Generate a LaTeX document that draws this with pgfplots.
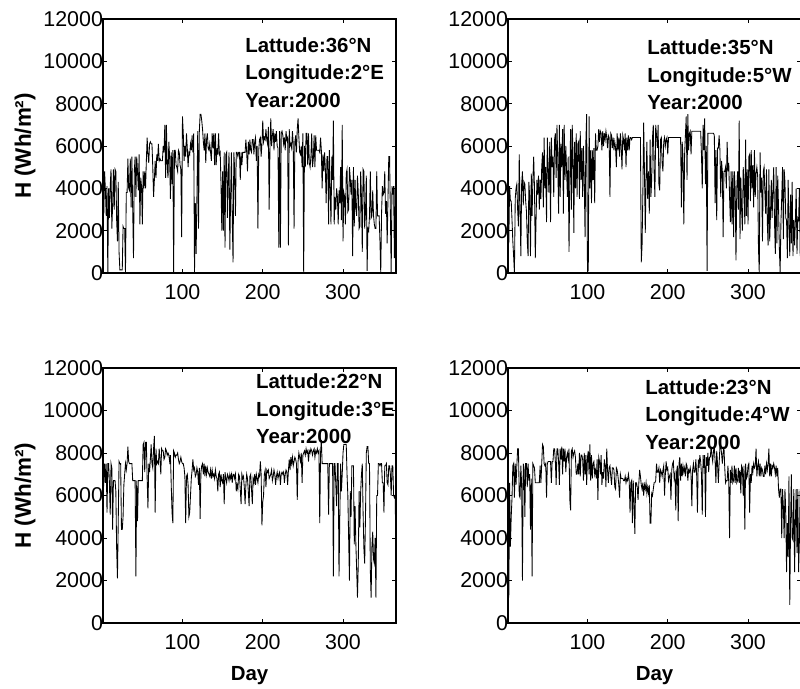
\documentclass[border=0pt]{standalone}
\usepackage{fontspec}
\setmainfont{Liberation Sans}
\usepackage{pgfplots}
\usepackage{pgfplotstable}
\pgfplotsset{compat=1.18}

% daily global irradiation H (Wh/m2), year 2000, one table per site
\pgfplotstableread[row sep=\\]{h\\
3500\\2800\\4800\\3900\\2700\\4100\\0\\4000\\2600\\4100\\
4900\\2100\\3200\\4900\\3000\\4900\\4800\\2500\\1500\\4300\\
1000\\150\\150\\150\\150\\2200\\2100\\2100\\0\\3800\\
3800\\5400\\4000\\3900\\5400\\3100\\5500\\3000\\700\\4800\\
5500\\3600\\5500\\4800\\3900\\5600\\2300\\4500\\4100\\2300\\
4800\\4000\\4800\\4000\\5300\\6400\\5600\\5200\\6100\\6200\\
6100\\6100\\5000\\3600\\4400\\5300\\4500\\5600\\5300\\6100\\
5300\\5400\\5300\\5300\\5300\\6000\\5700\\7000\\4500\\7000\\
5000\\4500\\6200\\5500\\3500\\5700\\4200\\5800\\0\\5800\\
5800\\5100\\5000\\4800\\5800\\5700\\5100\\4900\\1700\\7400\\
6600\\5300\\6000\\5500\\6600\\5900\\5000\\5700\\5600\\6100\\
5800\\6500\\5700\\6600\\0\\3300\\900\\3600\\6700\\2100\\
6700\\7500\\7500\\7200\\6800\\6200\\5800\\6600\\5200\\6300\\
6600\\5900\\5800\\6100\\5700\\5300\\6600\\5900\\6600\\5100\\
6600\\5100\\5900\\5600\\6600\\5600\\5700\\4200\\2000\\4800\\
2000\\5700\\1200\\5600\\5700\\2600\\4500\\5700\\1100\\3700\\
5700\\2600\\500\\5700\\4900\\2700\\5700\\5700\\5500\\5700\\
5700\\4400\\5700\\5100\\5700\\5700\\5700\\5700\\6300\\5700\\
4800\\6200\\5600\\6300\\5800\\5700\\6300\\6300\\5600\\6200\\
6400\\5300\\6000\\2100\\5800\\6300\\6400\\5500\\6100\\7200\\
6200\\6400\\6300\\6800\\6300\\6100\\6900\\3000\\5900\\7300\\
6000\\6500\\6800\\5800\\6600\\6200\\6700\\6000\\5900\\1200\\
6700\\1200\\6600\\6700\\6500\\6100\\6400\\5800\\6700\\6300\\
6400\\1300\\6800\\6000\\6100\\5900\\6700\\6100\\2100\\6200\\
6500\\5700\\6800\\7300\\6400\\5700\\5600\\6000\\5000\\6600\\
0\\6000\\5000\\6600\\6600\\5100\\6600\\5200\\5000\\5500\\
6600\\5000\\5400\\6500\\5000\\6500\\5800\\5800\\5800\\5800\\
5700\\6400\\5800\\4000\\5600\\4800\\5700\\4900\\3300\\5500\\
5500\\2300\\5800\\4000\\2300\\5500\\4400\\7200\\2300\\3600\\
3000\\4000\\3600\\2300\\3900\\3300\\5000\\2500\\7000\\1500\\
3800\\3600\\2300\\4700\\4900\\2900\\3000\\5000\\4500\\3700\\
4400\\800\\5000\\2200\\4400\\3000\\2700\\4600\\3800\\2100\\
2200\\4800\\3500\\1000\\4900\\4800\\2100\\2900\\4600\\100\\
2100\\2000\\2700\\4800\\2600\\2700\\3900\\2700\\2300\\2100\\
2100\\4800\\2700\\2700\\2700\\1500\\0\\2800\\4100\\3700\\
3800\\4800\\2800\\3400\\1400\\3500\\5500\\5500\\2800\\0\\
4100\\3700\\4100\\700\\4100\\700\\
}\tA

\pgfplotstableread[row sep=\\]{h\\
3000\\1400\\4100\\3400\\3400\\2500\\1500\\800\\0\\3500\\
4000\\4200\\3000\\2200\\5600\\3000\\800\\4200\\4800\\3200\\
4300\\4200\\3400\\2900\\1500\\800\\4300\\3600\\800\\4700\\
2700\\4400\\5500\\4000\\700\\2600\\4400\\3700\\4600\\3000\\
4400\\3500\\5000\\5700\\3100\\6400\\4000\\5000\\2400\\6400\\
4800\\3800\\6200\\2400\\6400\\5000\\5500\\3600\\6300\\6600\\
4500\\7000\\5300\\2800\\7000\\3600\\6100\\5000\\6800\\2800\\
7000\\4400\\6000\\4800\\3600\\5500\\1000\\4500\\6800\\3000\\
7000\\5600\\1900\\6200\\4000\\6600\\3600\\6100\\6200\\3500\\
6700\\4400\\5900\\3600\\6000\\4400\\1700\\6200\\7500\\100\\
100\\7400\\4000\\5800\\3300\\5800\\4400\\5900\\3300\\6600\\
5800\\5800\\6000\\6800\\6200\\6700\\6600\\5800\\6700\\6000\\
6600\\6300\\6700\\6400\\5900\\6500\\6400\\3600\\6600\\6500\\
5900\\6400\\5800\\6200\\5900\\5000\\6600\\5800\\6400\\5500\\
6600\\6000\\4900\\6500\\6300\\5800\\6600\\5000\\6400\\5800\\
6500\\5800\\6400\\6400\\6300\\6400\\6400\\6400\\6400\\6400\\
6400\\6400\\6400\\6400\\6400\\6400\\500\\1300\\3800\\7100\\
4800\\1900\\4500\\6200\\3500\\4800\\2800\\6300\\3600\\4400\\
6400\\7000\\4800\\3600\\7000\\6500\\5900\\7000\\4200\\3900\\
6300\\6400\\5200\\4800\\6200\\6400\\6000\\6300\\6400\\5600\\
6400\\6400\\6400\\6400\\6400\\6400\\6400\\6400\\6400\\6400\\
6400\\6400\\6400\\6400\\6400\\6400\\3100\\6200\\5500\\2300\\
5600\\6500\\7400\\4400\\7500\\5800\\6600\\6700\\5600\\6700\\
6700\\6700\\6700\\6700\\6700\\6700\\6700\\6700\\6700\\6700\\
6700\\5600\\4000\\7000\\5800\\7300\\4200\\6000\\100\\6600\\
6600\\6600\\6600\\6600\\6600\\6600\\6600\\6500\\3300\\5800\\
2500\\5900\\5900\\6500\\5800\\3600\\5300\\4800\\1700\\4800\\
4800\\5000\\4000\\6200\\4800\\5200\\3600\\2400\\4800\\2300\\
4800\\1700\\4800\\4000\\600\\4000\\4800\\3000\\7200\\1600\\
4500\\3000\\2000\\5000\\4300\\2300\\6300\\2700\\4900\\2300\\
5500\\5600\\3400\\5800\\4000\\5100\\3100\\5800\\3600\\4700\\
5000\\4600\\1200\\0\\5700\\3800\\4500\\1500\\4800\\5000\\
3800\\2800\\4900\\2400\\1300\\4900\\1500\\2800\\4400\\2600\\
3900\\5000\\2400\\900\\5000\\1400\\4600\\3100\\1200\\0\\
2400\\3600\\5000\\1600\\4900\\4300\\2600\\2500\\700\\4400\\
2500\\800\\3700\\1400\\4300\\800\\2500\\1300\\2500\\4000\\
900\\2600\\2500\\4000\\800\\2400\\
}\tB

\pgfplotstableread[row sep=\\]{h\\
6000\\6600\\7500\\6600\\7500\\5200\\7500\\7500\\6600\\5100\\
7500\\7300\\4400\\6700\\6700\\6700\\6200\\3500\\2100\\4800\\
7600\\7500\\7500\\4400\\4400\\5000\\6500\\7000\\7500\\7200\\
7500\\8300\\7600\\7500\\7500\\7500\\7500\\6700\\6700\\6700\\
6700\\2200\\6700\\4800\\6700\\6700\\6700\\6700\\6700\\6700\\
8400\\8500\\7100\\8500\\8500\\6800\\5400\\7500\\7100\\7700\\
8400\\7500\\7300\\8200\\8800\\5200\\8200\\7500\\7600\\7500\\
8200\\7700\\7000\\8200\\8100\\8100\\7700\\7800\\8200\\8100\\
7900\\8000\\7900\\7600\\7900\\6500\\5200\\4700\\8100\\8000\\
7800\\7900\\7900\\8000\\7700\\7500\\7600\\7800\\7600\\7500\\
7500\\7300\\6900\\4700\\6900\\7000\\6500\\5000\\5200\\6000\\
6800\\7200\\7700\\7200\\7300\\6900\\7000\\7300\\7100\\6500\\
7300\\4900\\7100\\7400\\7500\\7000\\7500\\6900\\7400\\7000\\
7300\\7100\\7000\\6900\\7200\\6800\\7200\\6900\\7000\\6800\\
7200\\6900\\6800\\6200\\7000\\7100\\6400\\7000\\6700\\6600\\
7000\\5600\\7100\\6800\\6600\\7000\\6900\\6700\\7000\\6800\\
7000\\6600\\7000\\7000\\6800\\7000\\6200\\6500\\6300\\7000\\
6900\\6300\\5600\\7000\\6800\\6900\\6400\\5600\\6500\\7000\\
6800\\6200\\5500\\6900\\7000\\6300\\5600\\6800\\6600\\7000\\
6500\\7000\\6800\\6600\\7000\\6900\\7600\\7000\\4600\\5700\\
6000\\7000\\7200\\6400\\7200\\7100\\7200\\6800\\6900\\7000\\
7200\\6700\\6900\\7200\\7000\\6500\\6900\\7100\\6800\\7000\\
7100\\6500\\7000\\7100\\7000\\7100\\6600\\7000\\7200\\7100\\
6500\\7200\\7700\\7200\\7800\\7500\\7800\\7400\\7600\\7800\\
7700\\7500\\5800\\7600\\8000\\7800\\7600\\8000\\6600\\7900\\
8000\\8100\\7900\\8200\\8000\\8100\\7600\\8100\\8000\\8200\\
8100\\7900\\8100\\8200\\7800\\8100\\8000\\8200\\8000\\8100\\
4700\\8000\\8600\\7500\\7500\\7500\\7500\\7500\\7500\\7500\\
7500\\5100\\7500\\7500\\7500\\7500\\7500\\2200\\7500\\7500\\
6500\\5500\\7500\\7500\\2200\\5000\\7500\\6200\\7000\\8000\\
8400\\8400\\8400\\8400\\7000\\6000\\4000\\2000\\6200\\5000\\
7400\\7400\\7400\\3700\\5500\\3700\\2500\\1200\\2800\\6200\\
4500\\6200\\7000\\7500\\5200\\3500\\2800\\5000\\8000\\8300\\
8300\\7500\\7500\\2500\\1200\\3600\\4300\\3000\\2800\\4000\\
1200\\6000\\6000\\7500\\7500\\7400\\7500\\7500\\6600\\6600\\
5200\\7400\\7400\\7500\\6600\\6500\\7400\\7400\\7000\\6000\\
7400\\7400\\6000\\5900\\6000\\2800\\
}\tC

\pgfplotstableread[row sep=\\]{h\\
6600\\1200\\6600\\3600\\5000\\5900\\7400\\7500\\5900\\7500\\
6500\\7400\\8200\\8200\\6000\\5900\\7400\\6500\\2000\\7500\\
7300\\5000\\7500\\7500\\6400\\7500\\6700\\7000\\4400\\6800\\
2200\\7500\\7400\\7300\\6600\\6600\\6600\\6600\\6600\\6600\\
7400\\6600\\7500\\8400\\8300\\7500\\7400\\7500\\5900\\7500\\
7600\\7600\\7600\\7600\\6600\\7600\\7600\\8200\\8200\\7600\\
6500\\8200\\8200\\7600\\6500\\8200\\7700\\8300\\7000\\8200\\
7600\\8200\\7100\\7800\\8000\\7700\\8200\\5800\\5300\\8100\\
8200\\7800\\8000\\8100\\7800\\7000\\7000\\7500\\7000\\8000\\
6900\\7900\\7900\\7700\\6700\\8000\\7000\\7900\\6500\\7800\\
8100\\7000\\8400\\6700\\7900\\6800\\7500\\7600\\7000\\7200\\
6800\\7700\\5800\\7800\\7600\\7000\\7900\\6500\\7100\\6800\\
7700\\7400\\6400\\8200\\7200\\6600\\7300\\7400\\6900\\6500\\
7300\\7300\\7200\\6400\\6300\\7300\\7200\\6900\\6500\\5900\\
7000\\6800\\6800\\6800\\6700\\6700\\6900\\6600\\6800\\6700\\
7000\\6700\\5200\\6600\\6700\\4700\\6700\\5600\\4200\\6600\\
6600\\6400\\5800\\6600\\7200\\6900\\6500\\6300\\6600\\6000\\
6500\\6300\\6600\\6100\\6400\\6100\\6500\\4700\\4700\\6100\\
6000\\6300\\6600\\6600\\6700\\7500\\7100\\7100\\7300\\6600\\
7200\\7100\\6900\\7200\\7400\\6000\\7000\\7600\\7200\\7300\\
6700\\6900\\7000\\5800\\7200\\7500\\7600\\6800\\7000\\5300\\
7100\\7400\\4800\\7500\\7800\\6700\\7500\\6900\\7400\\7100\\
7300\\6900\\7500\\7400\\6700\\7200\\7100\\7300\\7000\\5500\\
7200\\7500\\7100\\7100\\7700\\7000\\5200\\7700\\7300\\7900\\
7600\\7000\\5100\\7900\\7300\\7900\\5000\\7800\\7400\\8000\\
7100\\7800\\7800\\8300\\7900\\7600\\8100\\8300\\7600\\6600\\
8100\\7500\\6600\\7500\\8300\\8300\\8000\\7500\\8000\\8300\\
7300\\6600\\6700\\6700\\7400\\6600\\4000\\7200\\6600\\7400\\
6600\\6700\\7400\\6600\\7300\\6600\\6700\\7300\\6600\\7200\\
6100\\7400\\7300\\6000\\7400\\4400\\7500\\6800\\6900\\7400\\
7500\\5200\\7000\\6600\\7400\\7100\\7500\\7300\\7400\\8200\\
6900\\7400\\7600\\6900\\7500\\6900\\7300\\7200\\6900\\6900\\
7400\\7000\\7500\\7200\\7500\\8200\\6900\\7500\\6900\\7400\\
7300\\7500\\7300\\7000\\7400\\6900\\7300\\6300\\5900\\6300\\
6300\\4000\\6300\\5500\\4000\\6300\\5300\\2400\\4700\\3100\\
6900\\850\\4700\\7000\\4000\\3900\\6300\\2400\\4800\\6300\\
3300\\6300\\2400\\3900\\6300\\3100\\
}\tD

\pgfplotsset{
  panel/.style={
    scale only axis,
    width=293bp,
    xmin=1, xmax=366,
    ymin=0, ymax=12000,
    xtick={100,200,300},
    ytick={0,2000,...,12000},
    scaled y ticks=false,
    tick align=inside,
    major tick length=4bp,
    axis line style={line width=1.1bp},
    every tick/.style={black, line width=0.8bp},
    tick label style={font=\fontsize{21.5}{25}\selectfont},
    xticklabel style={yshift=-8bp},
    yticklabel style={xshift=3.5bp},
    /pgf/number format/assume math mode=true,
    /pgf/number format/1000 sep={},
    xlabel style={font=\bfseries\fontsize{20.5}{24}\selectfont,
      at={(axis description cs:0.5,-0.208)}, anchor=center},
    ylabel style={font=\bfseries\fontsize{22.5}{26}\selectfont,
      at={(axis description cs:-0.266,0.5)}, anchor=center},
  },
}
\tikzset{
  site/.style={anchor=north west, align=left, inner sep=0pt,
    font=\bfseries\fontsize{20.5}{27.8}\selectfont},
}

\begin{document}
\begin{tikzpicture}
\begin{axis}[panel, height=254bp, at={(103bp,-19bp)}, anchor=north west,
    ylabel={H (Wh/m²)}]
  \addplot[black, line width=0.85bp] table[x expr=\coordindex+1, y=h] {\tA};
  \node[site] at (rel axis cs:0.485,0.929) {Lattude:36°N\\Longitude:2°E\\Year:2000};
\end{axis}
\begin{axis}[panel, height=254bp, at={(508bp,-19bp)}, anchor=north west]
  \addplot[black, line width=0.85bp] table[x expr=\coordindex+1, y=h] {\tB};
  \node[site] at (rel axis cs:0.475,0.92) {Lattude:35°N\\Longitude:5°W\\Year:2000};
\end{axis}
\begin{axis}[panel, height=255bp, at={(103bp,-368bp)}, anchor=north west,
    ylabel={H (Wh/m²)}, xlabel={Day}]
  \addplot[black, line width=0.85bp] table[x expr=\coordindex+1, y=h] {\tC};
  \node[site] at (rel axis cs:0.522,0.979) {Lattude:22°N\\Longitude:3°E\\Year:2000};
\end{axis}
\begin{axis}[panel, height=255bp, at={(508bp,-368bp)}, anchor=north west,
    xlabel={Day}]
  \addplot[black, line width=0.85bp] table[x expr=\coordindex+1, y=h] {\tD};
  \node[site] at (rel axis cs:0.468,0.956) {Lattude:23°N\\Longitude:4°W\\Year:2000};
\end{axis}
\pgfresetboundingbox
\path[use as bounding box] (0,0) rectangle (800bp,-689bp);
\end{tikzpicture}
\end{document}
